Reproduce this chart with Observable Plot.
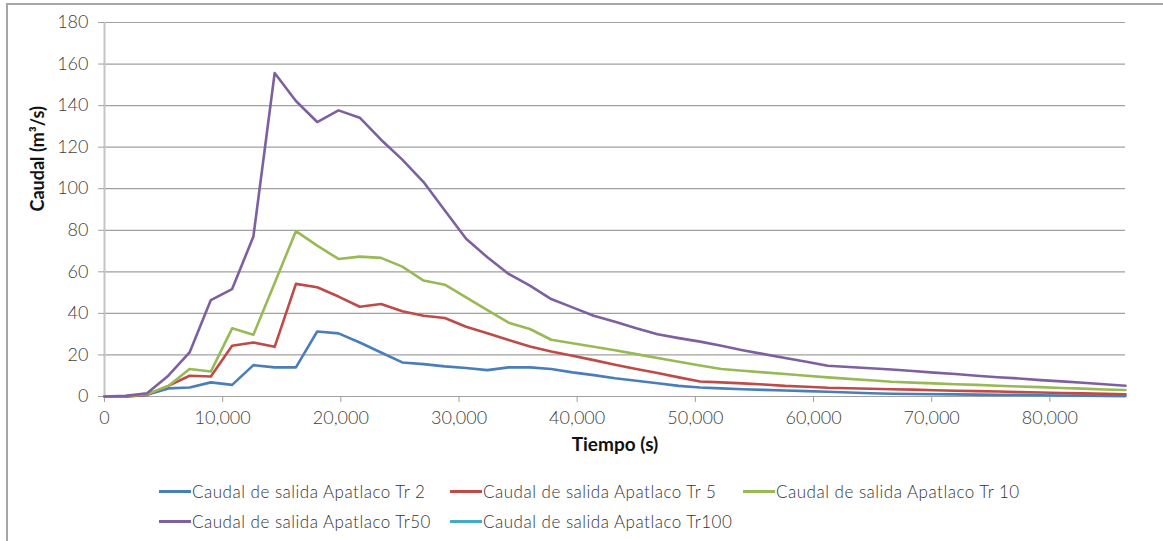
<!DOCTYPE html>
<html>
<head>
<meta charset="utf-8">
<script src="https://cdn.jsdelivr.net/npm/d3@7"></script>
<script src="https://cdn.jsdelivr.net/npm/@observablehq/plot@0.6"></script>
<style>
  html, body { margin: 0; padding: 0; background: #fff; }
  body { width: 1163px; height: 541px; overflow: hidden; position: relative; font-family: Lato, "Open Sans", sans-serif; }
  #frame { position: absolute; left: 6px; top: 3px; right: -10px; bottom: -10px; border-top: 2px solid #a6a6a6; border-left: 2px solid #a6a6a6; }
  #chart { position: absolute; left: 0; top: 0; }
  .key { position: absolute; display: flex; align-items: center; font-size: 17px; font-weight: 300; letter-spacing: 0.5px; color: #333; white-space: nowrap; }
  .key .sw { width: 32px; height: 3px; margin-right: 1px; }
</style>
</head>
<body>
<div id="frame"></div>
<div id="chart"></div>
<div id="legend"></div>
<script>
// Tiempo (s), every half hour over one day
const tiempo = [0, 1800, 3600, 5400, 7200, 9000, 10800, 12600, 14400, 16200, 18000, 19800, 21600, 23400, 25200, 27000, 28800, 30600, 32400, 34200, 36000, 37800, 39600, 41400, 43200, 45000, 46800, 48600, 50400, 52200, 54000, 55800, 57600, 59400, 61200, 63000, 64800, 66600, 68400, 70200, 72000, 73800, 75600, 77400, 79200, 81000, 82800, 84600, 86400];

// Caudal de salida (m³/s) por periodo de retorno
const tr2 = [0, 0, 0.8, 3.9, 4.3, 6.8, 5.6, 15.1, 14.0, 14.0, 31.3, 30.4, 26.0, 21.2, 16.4, 15.6, 14.5, 13.7, 12.7, 14.0, 14.0, 13.2, 11.6, 10.3, 8.8, 7.6, 6.4, 5.1, 4.3, 3.9, 3.5, 3.2, 2.9, 2.6, 2.3, 1.9, 1.6, 1.3, 1.2, 1.1, 1.0, 0.9, 0.8, 0.7, 0.6, 0.5, 0.4, 0.3, 0.2];
const tr5 = [0, 0, 0.8, 5.1, 10.0, 9.6, 24.4, 26.0, 23.9, 54.2, 52.6, 48.1, 43.2, 44.5, 41.0, 38.9, 37.8, 33.6, 30.4, 27.2, 24.1, 21.7, 19.6, 17.5, 15.3, 13.2, 11.3, 9.2, 7.2, 6.8, 6.3, 5.8, 5.1, 4.7, 4.2, 4.0, 3.7, 3.5, 3.3, 3.0, 2.8, 2.6, 2.4, 2.1, 1.9, 1.7, 1.5, 1.3, 1.1];
const tr10 = [0, 0.2, 1.1, 5.1, 13.2, 12.0, 32.8, 29.7, 54.6, 79.6, 72.6, 66.2, 67.3, 66.7, 62.5, 55.8, 53.8, 47.7, 41.6, 35.5, 32.5, 27.3, 25.6, 23.9, 22.3, 20.4, 18.5, 16.7, 14.9, 13.2, 12.4, 11.6, 10.8, 10.0, 9.2, 8.5, 7.8, 7.1, 6.7, 6.3, 5.9, 5.6, 5.2, 4.8, 4.5, 4.1, 3.8, 3.4, 3.1];
const tr50 = [0, 0.3, 1.6, 10.0, 21.2, 46.4, 51.7, 77.0, 155.7, 142.2, 132.1, 137.7, 134.2, 123.6, 114.0, 103.2, 89.5, 75.9, 67.0, 59.0, 53.4, 46.9, 42.9, 38.9, 36.0, 32.8, 30.0, 28.1, 26.4, 24.4, 22.3, 20.4, 18.5, 16.7, 14.8, 14.2, 13.6, 13.0, 12.3, 11.5, 10.8, 10.0, 9.3, 8.7, 7.9, 7.3, 6.6, 5.9, 5.2];
const tr100 = []; // sin valores

const seriesNames = [
  "Caudal de salida Apatlaco Tr 2",
  "Caudal de salida Apatlaco Tr 5",
  "Caudal de salida Apatlaco Tr 10",
  "Caudal de salida Apatlaco Tr50",
  "Caudal de salida Apatlaco Tr100"
];
const seriesValues = [tr2, tr5, tr10, tr50, tr100];
const seriesColors = ["#4a7ebb", "#be4b48", "#98b954", "#7d60a0", "#46aac5"];

const xTicks = [0, 10000, 20000, 30000, 40000, 50000, 60000, 70000, 80000];
const yTicks = [0, 20, 40, 60, 80, 100, 120, 140, 160, 180];

const rows = seriesNames.flatMap((name, i) =>
  seriesValues[i].map((q, j) => ({serie: name, t: tiempo[j], q}))
);

const fmt = d3.format(",");

const chart = Plot.plot({
  width: 1163,
  height: 470,
  marginLeft: 104,
  marginRight: 38,
  marginTop: 22,
  marginBottom: 74,
  style: {fontFamily: "Lato, sans-serif", fontSize: "18px", fontWeight: 300, color: "#404040", background: "transparent"},
  x: {domain: [0, 86400]},
  y: {domain: [0, 180]},
  color: {domain: seriesNames, range: seriesColors},
  marks: [
    Plot.gridY(yTicks, {stroke: "#a0a0a0", strokeOpacity: 1, strokeWidth: 1.2}),
    Plot.ruleX([0], {stroke: "#c4c4c4", strokeWidth: 2}),
    Plot.axisY(yTicks, {tickSize: 6, tickPadding: 10, stroke: "#a0a0a0", label: null, fill: "#404040"}),
    Plot.axisX(xTicks, {tickSize: 6, tickPadding: 9, stroke: "#a0a0a0", label: null, tickFormat: fmt, fill: "#404040"}),
    Plot.line(rows, {x: "t", y: "q", z: "serie", stroke: "serie", strokeWidth: 2.6, strokeLinejoin: "round"}),
    Plot.text(["Caudal (m³/s)"], {frameAnchor: "left", dx: -66, dy: 2, rotate: -90, fontWeight: "bold", fontSize: 18, fill: "#111"}),
    Plot.text(["Tiempo (s)"], {frameAnchor: "bottom", dy: 54, fontWeight: "bold", fontSize: 19, fill: "#111"})
  ]
});
document.getElementById("chart").append(chart);

// Legend, two rows of three columns
const legend = document.getElementById("legend");
const colX = [159, 450, 743];
const rowY = [491, 521];
seriesNames.forEach((name, i) => {
  const item = document.createElement("div");
  item.className = "key";
  item.style.left = colX[i % 3] + "px";
  item.style.top = (rowY[Math.floor(i / 3)] - 11) + "px";
  item.style.height = "22px";
  const sw = document.createElement("span");
  sw.className = "sw";
  sw.style.background = seriesColors[i];
  const label = document.createElement("span");
  label.textContent = name;
  item.append(sw, label);
  legend.append(item);
});
</script>
</body>
</html>
